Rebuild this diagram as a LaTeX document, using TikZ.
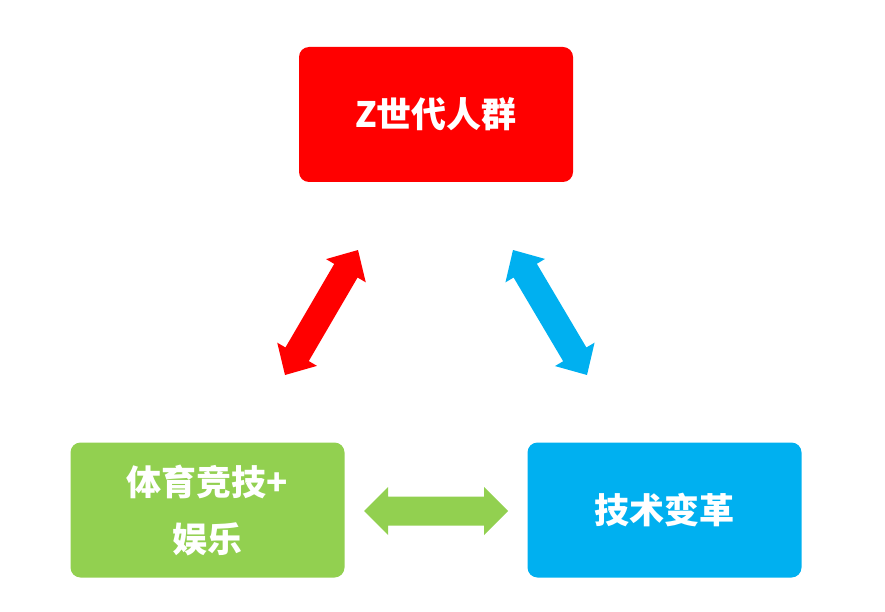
\documentclass[tikz,border=0pt]{standalone}
\usepackage{fontspec}
\newfontfamily\cjk{Noto Sans CJK SC}
\usetikzlibrary{calc}
\definecolor{zred}{HTML}{FF0000}
\definecolor{zgreen}{HTML}{92D050}
\definecolor{zblue}{HTML}{00B0F0}
\tikzset{
  box/.style={rounded corners=10pt, minimum width=274pt, minimum height=135pt,
    inner sep=0pt, text=white, font=\cjk\bfseries\fontsize{35}{57}\selectfont, align=center},
}
\newcommand\dblarr[6]{%
  \path ($(#1)!#6!(#2)$) coordinate (p1) ($(#2)!#6!(#1)$) coordinate (p2);
  \fill[#3] (#1) -- ($(p1)!#5!90:(#2)$) -- ($(p1)!#4!90:(#2)$) -- ($(p2)!#4!-90:(#1)$)
    -- ($(p2)!#5!-90:(#1)$) -- (#2) -- ($(p2)!#5!90:(#1)$) -- ($(p2)!#4!90:(#1)$)
    -- ($(p1)!#4!-90:(#2)$) -- ($(p1)!#5!-90:(#2)$) -- cycle;}
\begin{document}
\begin{tikzpicture}[x=1pt,y=-1pt]
\useasboundingbox (0,0) rectangle (885,612);
\node[box, fill=zred] (z) at (436,114.5) {Z世代人群};
\node[box, fill=zgreen] (s) at (207.5,510) {体育竞技+\\娱乐};
\node[box, fill=zblue] (t) at (664.5,510) {技术变革};
\coordinate (ra) at (358,250); \coordinate (rb) at (285,375);
\coordinate (ba) at (513,250); \coordinate (bb) at (587,375);
\coordinate (ga) at (364,511); \coordinate (gb) at (508,511);
\dblarr{ra}{rb}{zred}{13.5pt}{23pt}{24pt}
\dblarr{ba}{bb}{zblue}{13.5pt}{23pt}{24pt}
\dblarr{ga}{gb}{zgreen}{14.5pt}{24pt}{24pt}
\end{tikzpicture}
\end{document}
